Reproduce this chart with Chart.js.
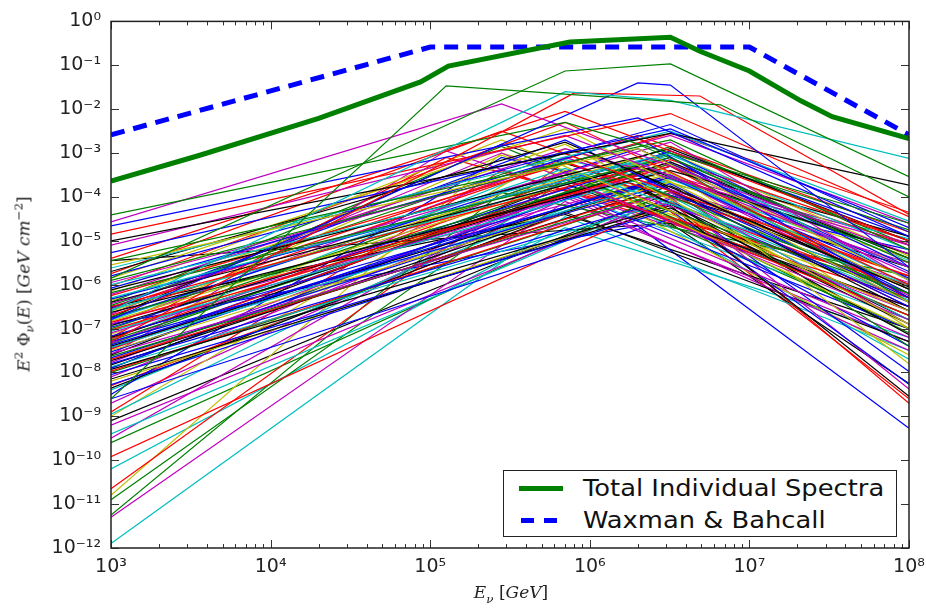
<!DOCTYPE html>
<html>
<head>
<meta charset="utf-8">
<script src="https://cdn.jsdelivr.net/npm/chart.js@4.4.1/dist/chart.umd.min.js"></script>
<style>
  body { margin: 0; background: #fff; }
  #wrap { position: relative; width: 926px; height: 612px; }
  .legend { position: absolute; left: 503px; top: 470px; width: 392px; height: 65px;
            border: 1.5px solid #222; background: #fff; font-family: 'DejaVu Sans'; font-size: 23px; color: #111; }
  .legend .row { position: absolute; left: 0; height: 30px; line-height: 30px; }
  .legend .txt { position: absolute; left: 79px; white-space: nowrap; transform: scaleX(1.12); transform-origin: left center; }
  .swatch { position: absolute; left: 15px; width: 44px; height: 5px; }
  .xlab { position: absolute; left: 511px; top: 594px; transform: translate(-50%, -50%);
          font-family: 'DejaVu Serif'; font-size: 17px; color: #222; white-space: nowrap; }
  .ylab { position: absolute; left: 24px; top: 284px; transform: translate(-50%, -50%) rotate(-90deg);
          font-family: 'DejaVu Serif'; font-size: 17px; color: #222; white-space: nowrap; }
  sup, sub { font-size: 70%; }
</style>
</head>
<body>
<div id="wrap">
  <canvas id="chart" width="926" height="612"></canvas>
  <div class="legend">
    <div class="row" style="top:2px;width:100%">
      <div class="swatch" style="top:13px;background:#008000"></div>
      <span class="txt">Total Individual Spectra</span>
    </div>
    <div class="row" style="top:34px;width:100%">
      <div class="swatch" style="top:13px;left:17px;width:36px;background:repeating-linear-gradient(90deg,#0000ff 0 13px,transparent 13px 23px)"></div>
      <span class="txt">Waxman &amp; Bahcall</span>
    </div>
  </div>
  <div class="xlab"><i>E</i><sub><i>ν</i></sub> [<i>GeV</i>]</div>
  <div class="ylab"><i>E</i><sup>2</sup> Φ<sub><i>ν</i></sub>(<i>E</i>) [<i>GeV cm</i><sup>−2</sup>]</div>
</div>
<script>
// axis ticks
const xTickValues = [1e3, 1e4, 1e5, 1e6, 1e7, 1e8];
const xTickLabels = ['10³', '10⁴', '10⁵', '10⁶', '10⁷', '10⁸'];
const yTickValues = [1e-12, 1e-11, 1e-10, 1e-9, 1e-8, 1e-7, 1e-6, 1e-5, 1e-4, 1e-3, 1e-2, 1e-1, 1];
const yTickLabels = ['10⁻¹²', '10⁻¹¹', '10⁻¹⁰', '10⁻⁹', '10⁻⁸', '10⁻⁷', '10⁻⁶', '10⁻⁵', '10⁻⁴', '10⁻³', '10⁻²', '10⁻¹', '10⁰'];

// total of individual spectra (log10 of E^2 Phi)
const totalE = [1e3, 3.6e3, 2e4, 8.7e4, 1.3e5, 7.5e5, 3.2e6, 4.9e6, 1e7, 2.1e7, 3.3e7, 1e8];
const totalLog = [-3.64, -3.05, -2.21, -1.38, -1.02, -0.47, -0.36, -0.68, -1.13, -1.81, -2.17, -2.67];

// Waxman & Bahcall
const wbE = [1e3, 1e5, 1e7, 1e8];
const wbVal = [2.6e-3, 0.26, 0.26, 2.6e-3];

// individual spectra: value at 1e3 GeV, break energy, value at break, value at 1e8 GeV (log10)
const lineColors = 'gmbrkmbrgy' + 'ckrbygmcrb' + 'kygmrcbykm' + 'grbcykmrgb' + 'cyrmkbgrcm' +
                   'ybkrgbmbkc' + 'rybmkgbrkm' + 'bkcbkrgbmk' + 'ybkbcmcmrr' + 'yggmckbkgc' +
                   'rymbgrcykm' + 'gbyrcmykrg';
const startLog = [
  -4.41, -4.57, -4.66, -4.85, -5.00, -5.10, -5.27, -5.40, -5.45, -5.55,
  -5.62, -5.70, -5.75, -5.80, -5.85, -5.90, -5.95, -6.00, -6.03, -6.08,
  -6.12, -6.15, -6.18, -6.22, -6.25, -6.30, -6.33, -6.36, -6.40, -6.43,
  -6.47, -6.50, -6.53, -6.57, -6.60, -6.63, -6.67, -6.70, -6.73, -6.77,
  -6.80, -6.83, -6.86, -6.90, -6.93, -6.97, -7.00, -7.03, -7.06, -7.10,
  -7.13, -7.17, -7.20, -7.23, -7.27, -7.30, -7.33, -7.37, -7.40, -7.43,
  -7.47, -7.50, -7.53, -7.57, -7.60, -7.63, -7.67, -7.70, -7.73, -7.77,
  -7.80, -7.83, -7.87, -7.90, -7.93, -7.97, -8.00, -8.05, -8.10, -8.15,
  -8.20, -8.28, -8.36, -8.60, -8.95, -9.20, -9.40, -9.50, -9.92, -10.65,
  -10.80, -10.90, -11.25, -11.30, -11.90, -5.45, -6.90, -6.50, -9.60, -10.20,
  -8.90, -9.00, -7.60, -8.50, -7.90, -7.20, -8.40, -6.95, -9.10, -8.70,
  -6.40, -7.45, -7.70, -8.30, -7.25, -6.85, -7.05, -6.75, -6.55, -7.35
];
const breakE = [
  7e5, 2.8e5, 2e6, 3.2e6, 3.2e6, 7e5, 3.2e6, 7e5, 3.2e6, 2e6,
  3.2e6, 7e5, 2.8e5, 3.2e6, 7e5, 2e6, 3.2e6, 3.2e6, 7e5, 2e6,
  3.2e6, 2.8e5, 3.2e6, 7e5, 3.2e6, 2e6, 3.2e6, 7e5, 2e6, 3.2e6,
  7e5, 3.2e6, 7e5, 3.2e6, 2e6, 3.2e6, 2.8e5, 7e5, 3.2e6, 2e6,
  7e5, 3.2e6, 3.2e6, 7e5, 2e6, 3.2e6, 7e5, 3.2e6, 2e6, 3.2e6,
  7e5, 3.2e6, 3.2e6, 7e5, 2e6, 3.2e6, 7e5, 3.2e6, 2e6, 3.2e6,
  7e5, 3.2e6, 2e6, 3.2e6, 7e5, 3.2e6, 3.2e6, 2e6, 3.2e6, 7e5,
  3.2e6, 2e6, 3.2e6, 7e5, 3.2e6, 3.2e6, 2e6, 3.2e6, 7e5, 3.2e6,
  2e6, 3.2e6, 7e5, 3.2e6, 7e5, 3.2e6, 2e6, 7e5, 3.2e6, 7e5,
  2.8e5, 7e5, 2.8e5, 7e5, 7e5, 3.2e6, 2e6, 7e5, 2e6, 7e5,
  2.8e5, 7e5, 1.26e5, 2.8e5, 3.2e6, 1.26e5, 3.2e6, 2.8e5, 3.2e6, 2e6,
  2.8e5, 3.2e6, 3.2e6, 2e6, 7e5, 3.2e6, 3.2e6, 2.8e5, 2e6, 3.2e6
];
const peakLog = [
  -2.30, -1.88, -2.20, -2.10, -2.55, -2.60, -2.45, -2.05, -2.70, -2.90,
  -2.50, -2.75, -2.50, -2.35, -2.45, -2.80, -2.60, -3.00, -2.30, -2.65,
  -2.90, -2.70, -3.10, -2.90, -2.55, -3.20, -3.00, -2.80, -3.30, -2.75,
  -3.00, -3.15, -2.70, -3.05, -3.10, -3.40, -3.00, -3.20, -3.25, -2.90,
  -3.35, -3.00, -3.30, -3.10, -3.45, -3.10, -3.50, -3.25, -3.60, -3.30,
  -3.40, -3.55, -3.20, -3.60, -3.35, -3.70, -3.45, -3.50, -3.75, -3.60,
  -3.80, -3.65, -3.50, -3.90, -3.70, -3.85, -3.55, -4.00, -3.75, -3.95,
  -4.05, -3.80, -4.10, -3.90, -4.20, -3.85, -4.10, -4.30, -4.00, -4.25,
  -4.40, -4.15, -4.35, -4.50, -3.90, -4.00, -4.30, -3.60, -4.10, -3.20,
  -3.00, -3.60, -3.90, -4.10, -4.45, -4.60, -4.66, -4.40, -4.20, -4.70,
  -3.40, -2.90, -2.95, -3.10, -3.00, -3.10, -3.30, -3.05, -3.90, -3.30,
  -2.85, -2.95, -3.45, -3.75, -3.15, -3.55, -3.20, -2.80, -2.60, -2.85
];
const endLog = [
  -4.60, -5.30, -4.90, -4.45, -3.73, -5.60, -4.70, -5.00, -5.20, -5.90,
  -4.55, -6.10, -5.80, -4.80, -6.40, -5.40, -4.60, -5.90, -6.00, -6.30,
  -5.00, -6.60, -5.50, -5.10, -4.35, -6.00, -5.60, -6.90, -5.30, -5.90,
  -6.20, -5.00, -6.50, -5.20, -6.10, -4.90, -6.80, -5.80, -6.40, -5.70,
  -6.00, -5.35, -6.30, -5.50, -6.60, -5.90, -6.20, -5.10, -6.80, -5.75,
  -7.00, -6.10, -5.40, -6.70, -5.30, -6.40, -5.95, -6.20, -7.14, -5.60,
  -6.00, -7.80, -6.30, -6.90, -6.50, -7.40, -5.85, -6.60, -6.10, -7.20,
  -7.98, -6.80, -6.35, -7.00, -8.54, -6.50, -7.10, -8.27, -7.50, -6.90,
  -7.60, -6.40, -7.30, -7.40, -6.80, -8.38, -7.70, -6.60, -8.70, -6.20,
  -5.50, -7.00, -5.80, -7.30, -7.50, -8.25, -9.27, -7.00, -6.70, -7.20,
  -6.30, -5.40, -6.50, -5.20, -4.75, -6.00, -5.45, -6.30, -6.05, -5.05,
  -6.70, -4.90, -7.00, -8.60, -4.95, -6.25, -5.90, -5.60, -4.80, -5.10
];

// a few spectra with two bends (top outliers)
const bentColors = 'ggcrb';
const bentE = [
  [1e3, 7e5, 3.2e6, 1e8],
  [1e3, 1.26e5, 6.6e6, 1e8],
  [1e3, 7e5, 3.2e6, 1e8],
  [1e3, 8e5, 4.9e6, 1e8],
  [1e3, 2e6, 3.2e6, 1e8]
];
const bentLog = [
  [-5.85, -1.13, -0.97, -3.54],
  [-8.60, -1.47, -1.90, -4.00],
  [-6.60, -1.60, -1.80, -3.12],
  [-7.30, -1.63, -1.70, -4.40],
  [-6.80, -1.40, -1.45, -5.60]
];

const palette = { b: '#0000ff', g: '#008000', r: '#ff0000', c: '#00bfbf', m: '#bf00bf', y: '#bfbf00', k: '#000000' };

const datasets = [
  {
    label: 'Total Individual Spectra',
    data: totalE.map((e, i) => ({ x: e, y: Math.pow(10, totalLog[i]) })),
    borderColor: '#008000', borderWidth: 5
  },
  {
    label: 'Waxman & Bahcall',
    data: wbE.map((e, i) => ({ x: e, y: wbVal[i] })),
    borderColor: '#0000ff', borderWidth: 5, borderDash: [14, 9]
  }
];
bentE.forEach((es, j) => {
  datasets.push({
    label: 'spectrum b' + j,
    data: es.map((e, i) => ({ x: e, y: Math.pow(10, bentLog[j][i]) })),
    borderColor: palette[bentColors[j]], borderWidth: 1.2
  });
});
startLog.forEach((s, i) => {
  datasets.push({
    label: 'spectrum ' + i,
    data: [
      { x: 1e3, y: Math.pow(10, s) },
      { x: breakE[i], y: Math.pow(10, peakLog[i]) },
      { x: 1e8, y: Math.pow(10, endLog[i]) }
    ],
    borderColor: palette[lineColors[i]], borderWidth: 1.2
  });
});

// inward ticks on all four sides + frame, like matplotlib
const frameTicks = {
  id: 'frameTicks',
  afterDraw(chart) {
    const { ctx, chartArea: a, scales: { x, y } } = chart;
    ctx.save();
    ctx.strokeStyle = '#333';
    ctx.lineWidth = 1;
    const tick = (x1, y1, x2, y2) => { ctx.beginPath(); ctx.moveTo(x1, y1); ctx.lineTo(x2, y2); ctx.stroke(); };
    for (let d = 3; d <= 8; d++) {
      const px = Math.round(x.getPixelForValue(Math.pow(10, d))) + 0.5;
      tick(px, a.bottom, px, a.bottom - 8);
      tick(px, a.top, px, a.top + 8);
      if (d < 8) {
        for (let k = 2; k <= 9; k++) {
          const mx = Math.round(x.getPixelForValue(k * Math.pow(10, d))) + 0.5;
          tick(mx, a.bottom, mx, a.bottom - 4);
          tick(mx, a.top, mx, a.top + 4);
        }
      }
    }
    yTickValues.forEach(v => {
      const py = Math.round(y.getPixelForValue(v)) + 0.5;
      tick(a.left, py, a.left + 8, py);
      tick(a.right, py, a.right - 8, py);
    });
    ctx.lineWidth = 1.5;
    ctx.strokeStyle = '#222';
    ctx.strokeRect(a.left, a.top, a.right - a.left, a.bottom - a.top);
    ctx.restore();
  }
};

new Chart(document.getElementById('chart').getContext('2d'), {
  type: 'line',
  data: { datasets: datasets },
  options: {
    responsive: false,
    animation: false,
    devicePixelRatio: 1,
    layout: { padding: { top: 17, right: 17, left: 0, bottom: 0 } },
    elements: { point: { radius: 0 }, line: { tension: 0, borderCapStyle: 'butt', borderJoinStyle: 'miter' } },
    plugins: { legend: { display: false }, tooltip: { enabled: false } },
    scales: {
      x: {
        type: 'logarithmic', min: 1e3, max: 1e8,
        afterBuildTicks: s => { s.ticks = xTickValues.map(v => ({ value: v })); },
        afterFit: s => { s.height = 64; s.paddingLeft = 0; s.paddingRight = 0; },
        grid: { display: false, drawTicks: false }, border: { display: false },
        ticks: { autoSkip: false, maxRotation: 0, padding: 8, color: '#222',
                 font: { family: 'DejaVu Sans', size: 19 }, callback: (v, i) => xTickLabels[i] }
      },
      y: {
        type: 'logarithmic', min: 1e-12, max: 1,
        afterBuildTicks: s => { s.ticks = yTickValues.map(v => ({ value: v })); },
        afterFit: s => { s.width = 111; },
        grid: { display: false, drawTicks: false }, border: { display: false },
        ticks: { autoSkip: false, padding: 10, color: '#222',
                 font: { family: 'DejaVu Sans', size: 19 }, callback: (v, i) => yTickLabels[i] }
      }
    }
  },
  plugins: [frameTicks]
});
</script>
</body>
</html>
